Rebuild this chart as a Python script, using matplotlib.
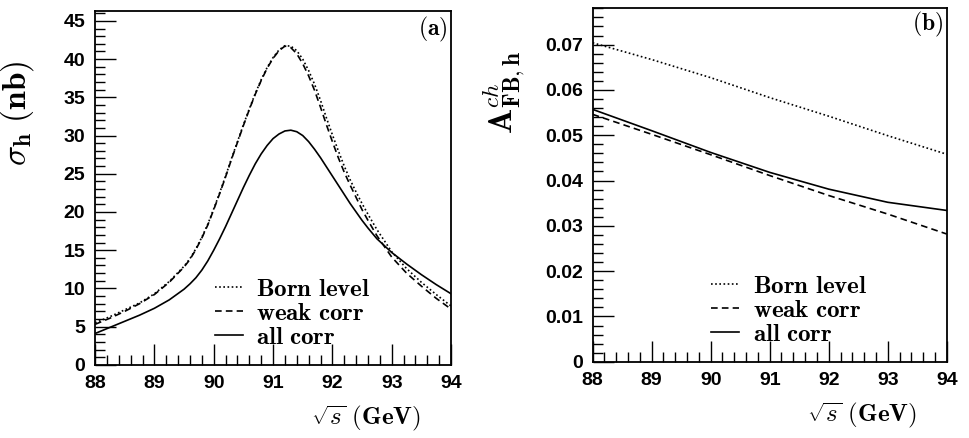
import numpy as np
import matplotlib.pyplot as plt
from matplotlib.ticker import MultipleLocator

plt.rcParams['mathtext.fontset'] = 'cm'

# panel (a): hadronic cross section vs sqrt(s)
x_a = [88, 88.25, 88.5, 88.75, 89, 89.25, 89.5, 89.6, 89.7, 89.8, 89.9,
       90.0, 90.1, 90.2, 90.3, 90.4, 90.5, 90.6, 90.7, 90.8, 90.9,
       91.0, 91.1, 91.2, 91.3, 91.4, 91.5, 91.6, 91.7, 91.8, 91.9,
       92.0, 92.1, 92.2, 92.3, 92.4, 92.5, 92.6, 92.75, 93.0, 93.25,
       93.5, 93.75, 94]
born_a = [5.5, 6.3, 7.2, 8.1, 9.3, 10.9, 12.9, 13.9, 15.2, 16.7, 18.4,
          20.4, 22.5, 24.7, 27.0, 29.2, 31.4, 33.5, 35.5, 37.3, 38.9,
          40.2, 41.2, 41.75, 41.7, 41.1, 40.0, 38.5, 36.7, 34.6, 32.3,
          30.1, 28.0, 26.0, 24.2, 22.6, 21.1, 19.7, 17.7, 14.8, 12.6,
          10.8, 9.2, 7.7]
weak_a = [5.3, 6.1, 7.0, 8.0, 9.2, 10.8, 12.8, 13.8, 15.1, 16.6, 18.3,
          20.3, 22.4, 24.6, 26.9, 29.1, 31.3, 33.4, 35.4, 37.2, 38.8,
          40.1, 41.1, 41.7, 41.5, 40.7, 39.4, 37.8, 35.9, 33.7, 31.4,
          29.2, 27.1, 25.2, 23.5, 21.9, 20.3, 18.9, 16.9, 14.1, 12.0,
          10.3, 8.7, 7.3]
all_a = [4.1, 4.9, 5.7, 6.5, 7.4, 8.5, 9.9, 10.6, 11.4, 12.4, 13.6,
         15.0, 16.5, 18.1, 19.8, 21.5, 23.2, 24.8, 26.3, 27.6, 28.7,
         29.6, 30.2, 30.6, 30.7, 30.5, 30.0, 29.2, 28.2, 27.1, 25.9,
         24.7, 23.5, 22.3, 21.1, 20.0, 18.9, 17.9, 16.5, 14.7, 13.2,
         11.8, 10.5, 9.3]

# panel (b): charge asymmetry vs sqrt(s)
x_b = [88, 89, 90, 91, 92, 93, 94]
born_b = [0.0704, 0.0667, 0.0627, 0.0583, 0.0542, 0.0499, 0.0458]
weak_b = [0.0546, 0.0502, 0.0457, 0.0411, 0.0367, 0.0326, 0.0282]
all_b = [0.0557, 0.0510, 0.0462, 0.0418, 0.0381, 0.0352, 0.0334]

labels = [r'$\mathbf{Born\ level}$', r'$\mathbf{weak\ corr}$', r'$\mathbf{all\ corr}$']
styles = [(0, (1, 1.5)), (0, (4, 2.5)), '-']

xticks = [88, 89, 90, 91, 92, 93, 94]
yticks_a = [0, 5, 10, 15, 20, 25, 30, 35, 40, 45]
yticks_b = ['0', '0.01', '0.02', '0.03', '0.04', '0.05', '0.06', '0.07']

fig = plt.figure(figsize=(9.7, 4.38), dpi=100)
ax1 = fig.add_axes([0.098, 0.167, 0.367, 0.808])
ax2 = fig.add_axes([0.611, 0.174, 0.365, 0.808])


def style_axes(ax, yt, ytl, ymin, ymax):
    ax.set_xlim(88, 94)
    ax.set_ylim(0, ymax)
    ax.set_xticks(xticks)
    ax.set_xticklabels([str(v) for v in xticks], fontweight='bold', family='Liberation Sans')
    ax.set_yticks(yt)
    ax.set_yticklabels(ytl, fontweight='bold', family='Liberation Sans')
    ax.xaxis.set_minor_locator(MultipleLocator(0.2))
    ax.yaxis.set_minor_locator(MultipleLocator(ymin))
    ax.tick_params(which='both', direction='in', top=False, right=False,
                   labelsize=14, width=1.0)
    ax.tick_params(which='major', length=15, pad=7)
    ax.tick_params(which='minor', length=7)
    for sp in ax.spines.values():
        sp.set_linewidth(1.3)


def legend_at(ax, x0):
    ax.legend(loc='lower left', bbox_to_anchor=(x0, 0.045), frameon=False, fontsize=18,
              handlelength=1.1, handletextpad=0.55, labelspacing=0.0, borderpad=0,
              borderaxespad=0)


# panel a
for y, ls, lab in zip([born_a, weak_a, all_a], styles, labels):
    ax1.plot(x_a, y, color='black', lw=1.2, linestyle=ls, label=lab)
style_axes(ax1, yticks_a, [str(v) for v in yticks_a], 1, 46.3)
ax1.set_ylabel(r'$\sigma_{\mathbf{h}}\ \mathbf{(nb)}$', fontsize=24)
ax1.yaxis.set_label_coords(-0.165, 0.71)
ax1.set_xlabel(r'$\sqrt{s}\ \mathbf{(GeV)}$', fontsize=18)
ax1.xaxis.set_label_coords(0.76, -0.108)
ax1.text(0.99, 0.99, r'$\mathbf{(a)}$', transform=ax1.transAxes, fontsize=17,
         ha='right', va='top')
legend_at(ax1, 0.337)

# panel b
for y, ls, lab in zip([born_b, weak_b, all_b], styles, labels):
    ax2.plot(x_b, y, color='black', lw=1.2, linestyle=ls, label=lab)
style_axes(ax2, [float(v) for v in yticks_b], yticks_b, 0.002, 0.0781)
ax2.set_ylabel(r'$\mathbf{A}^{ch}_{\mathbf{FB,h}}$', fontsize=24)
ax2.yaxis.set_label_coords(-0.185, 0.76)
ax2.set_xlabel(r'$\sqrt{s}\ \mathbf{(GeV)}$', fontsize=18)
ax2.xaxis.set_label_coords(0.76, -0.108)
ax2.text(0.99, 0.995, r'$\mathbf{(b)}$', transform=ax2.transAxes, fontsize=17,
         ha='right', va='top')
legend_at(ax2, 0.335)

plt.savefig('out.png', dpi=100)
